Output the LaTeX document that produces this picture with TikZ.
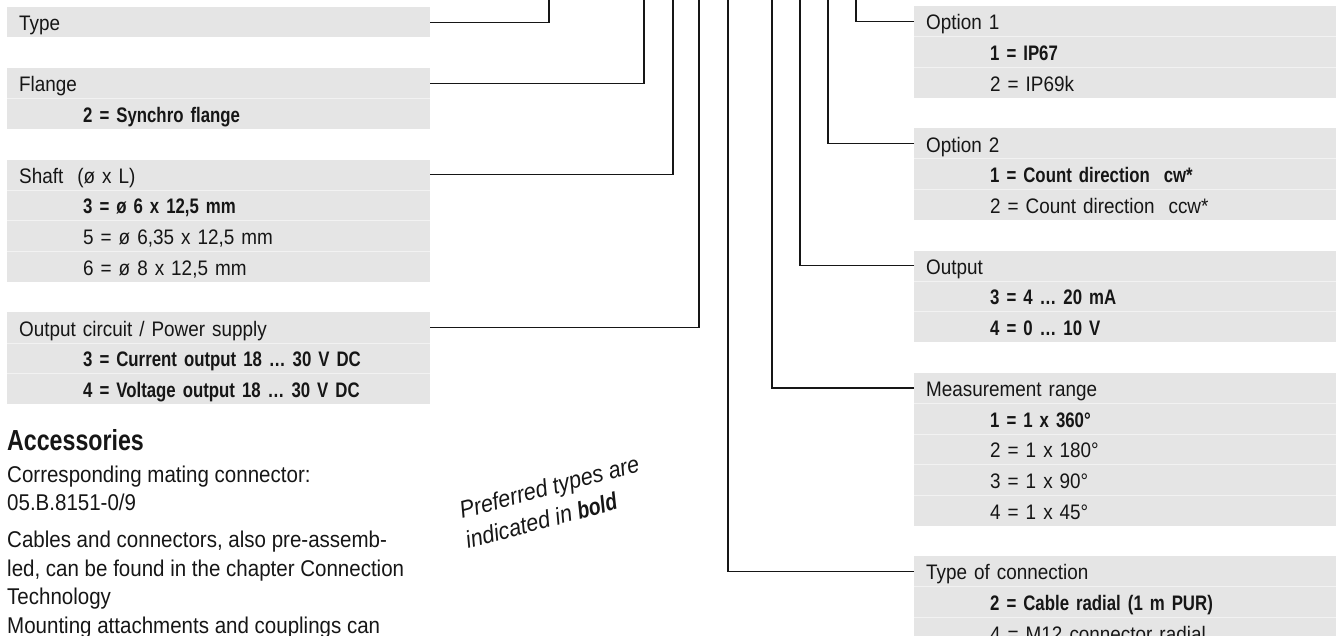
\documentclass[tikz,border=0pt]{standalone}
\usepackage{fontspec}
\setmainfont{Liberation Sans}[
  UprightFeatures    = {FakeStretch=0.90},
  BoldFeatures       = {FakeStretch=0.80},
  ItalicFeatures     = {FakeStretch=0.90},
  BoldItalicFeatures = {FakeStretch=0.80}
]
\usepackage{xcolor}
\usepackage{tikz}
\usetikzlibrary{
  positioning,
  calc
}
\definecolor{RowGray}{RGB}{229,229,229}
\definecolor{SepGray}{RGB}{242,242,242}
\definecolor{InkBlack}{RGB}{22,22,22}
\tikzset{
  %%── table rows ─────────────────────────────────────────────
  row/.style = {
    rectangle, fill = RowGray, text = InkBlack,
    text width = 399pt, inner xsep = 12pt, inner ysep = 0pt,
    minimum height = 30.25pt, text height = 21pt, text depth = 4pt,
    align = left, font = \fontsize{21}{25}\selectfont
  },
  hdr/.style = {row},
  opt/.style = {
    row, below = 0pt of #1,
    execute at begin node = {\hspace*{64pt}},
    append after command = {(\tikzlastnode.north west) edge[sep] (\tikzlastnode.north east)}
  },
  sep/.style = {draw = SepGray, line width = 0.8pt},
  %%── connectors ─────────────────────────────────────────────
  conn/.style = {draw = InkBlack, line width = 1.3pt},
  %%── free text (base = last line) ───────────────────────────
  acchead/.style = {
    inner sep = 0pt, anchor = base west, text = InkBlack,
    font = \fontsize{29}{32}\selectfont\bfseries
  },
  body/.style = {
    inner sep = 0pt, anchor = base west, align = left, text = InkBlack,
    font = \fontsize{22.8}{28.5}\selectfont
  },
  pref/.style = {
    inner sep = 0pt, anchor = base west, rotate = 15, text = InkBlack,
    font = \fontsize{24}{28}\selectfont\itshape
  },
}

\begin{document}
\begin{tikzpicture}[x = 1pt, y = -1pt]
  \useasboundingbox (0,0) rectangle (1336,636);

  %% ── left column ─────────────────────────────────────
  \node[hdr, anchor = north west] (type) at (7,7) {Type};

  \node[hdr, below = 30.25pt of type] (flange) {Flange};
  \node[opt = flange]  (flange2) {\textbf{2 = Synchro flange}};

  \node[hdr, below = 30.25pt of flange2] (shaft) {Shaft~~(ø x L)};
  \node[opt = shaft]  (shaft3) {\textbf{3 = ø 6 x 12,5 mm}};
  \node[opt = shaft3] (shaft5) {5 = ø 6,35 x 12,5 mm};
  \node[opt = shaft5] (shaft6) {6 = ø 8 x 12,5 mm};

  \node[hdr, below = 30.25pt of shaft6] (circ) {Output circuit / Power supply};
  \node[opt = circ]  (circ3) {\textbf{3 = Current output 18 … 30 V DC}};
  \node[opt = circ3] (circ4) {\textbf{4 = Voltage output 18 … 30 V DC}};

  %% ── right column ────────────────────────────────────
  \node[hdr, anchor = north west] (opta) at (914,6) {Option 1};
  \node[opt = opta]  (opta1) {\textbf{1 = IP67}};
  \node[opt = opta1] (opta2) {2 = IP69k};

  \node[hdr, below = 30.25pt of opta2] (optb) {Option 2};
  \node[opt = optb]  (optb1) {\textbf{1 = Count direction~~cw*}};
  \node[opt = optb1] (optb2) {2 = Count direction~~ccw*};

  \node[hdr, below = 30.25pt of optb2] (outp) {Output};
  \node[opt = outp]  (outp3) {\textbf{3 = 4 … 20 mA}};
  \node[opt = outp3] (outp4) {\textbf{4 = 0 … 10 V}};

  \node[hdr, below = 30.25pt of outp4] (range) {Measurement range};
  \node[opt = range]  (range1) {\textbf{1 = 1 x 360°}};
  \node[opt = range1] (range2) {2 = 1 x 180°};
  \node[opt = range2] (range3) {3 = 1 x 90°};
  \node[opt = range3] (range4) {4 = 1 x 45°};

  \node[hdr, below = 30.25pt of range4] (conx) {Type of connection};
  \node[opt = conx]  (conx2) {\textbf{2 = Cable radial (1 m PUR)}};
  \node[opt = conx2] (conx4) {4 = M12 connector radial};

  %% ── connector ends (above the picture) ──────────────
  \coordinate (topType)   at (549,-5);
  \coordinate (topFlange) at (644,-5);
  \coordinate (topShaft)  at (673,-5);
  \coordinate (topCirc)   at (699,-5);
  \coordinate (topConx)   at (728,-5);
  \coordinate (topRange)  at (772,-5);
  \coordinate (topOutp)   at (800,-5);
  \coordinate (topOptb)   at (828,-5);
  \coordinate (topOpta)   at (856,-5);

  %% ── connectors ──────────────────────────────────────
  \draw[conn] (type.east)   -| (topType);
  \draw[conn] (flange.east) -| (topFlange);
  \draw[conn] (shaft.east)  -| (topShaft);
  \draw[conn] (circ.east)   -| (topCirc);
  \draw[conn] (conx.west)   -| (topConx);
  \draw[conn] (range.west)  -| (topRange);
  \draw[conn] (outp.west)   -| (topOutp);
  \draw[conn] (optb.west)   -| (topOptb);
  \draw[conn] (opta.west)   -| (topOpta);

  %% ── accessories ─────────────────────────────────────
  \node[acchead] (acc) at (7,450) {Accessories};
  \node[body] (mate) at (7,510.5)
    {Corresponding mating connector:\\05.B.8151-0/9};
  \node[body] (cables) at (7,633)
    {Cables and connectors, also pre-assemb-\\
     led, can be found in the chapter Connection\\
     Technology\\
     Mounting attachments and couplings can};

  %% ── note ────────────────────────────────────────────
  \node[pref] (pref1) at (462,519) {Preferred types are};
  \node[pref] (pref2) at (468,549) {indicated in \textbf{bold}};

\end{tikzpicture}
\end{document}
